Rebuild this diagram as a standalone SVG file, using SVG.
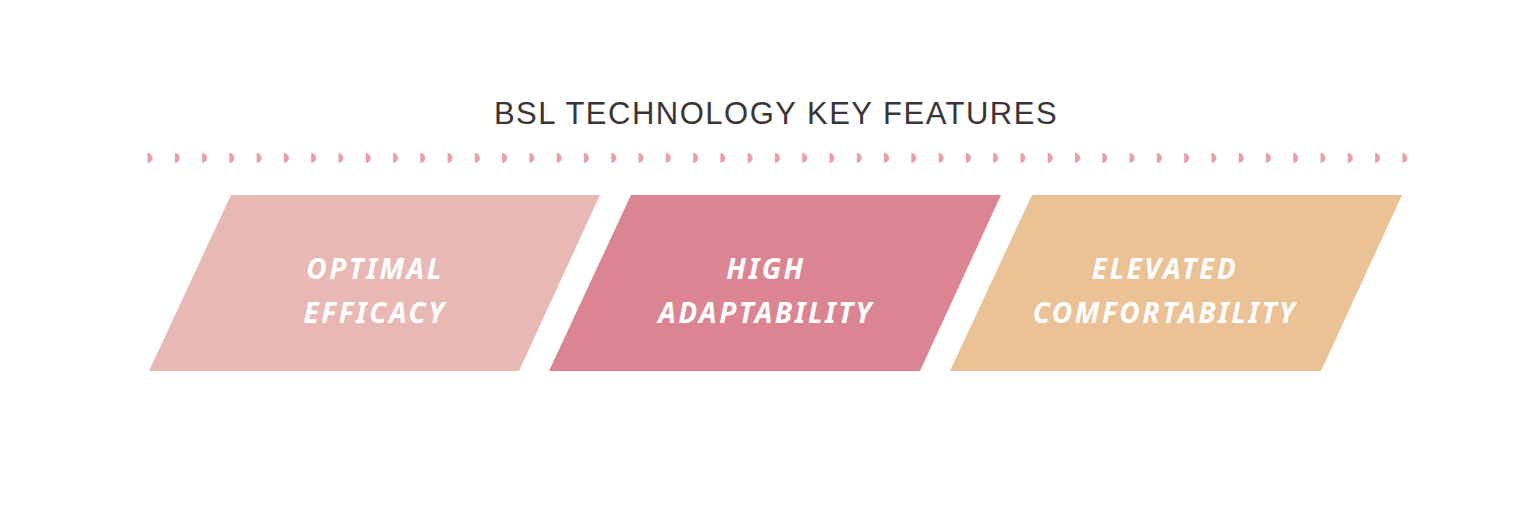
<svg xmlns="http://www.w3.org/2000/svg" width="1540" height="514" viewBox="0 0 1540 514">
<style>
.t{font-family:"Liberation Sans",Arial,sans-serif;font-size:31px;fill:#3a3536;letter-spacing:1.5px}
.l{font-family:"Noto Sans","Liberation Sans",sans-serif;font-size:28px;font-weight:bold;font-style:italic;fill:#fff;letter-spacing:2.5px;text-anchor:middle}
</style>
<defs><pattern id="d" x="147.5" y="0" width="27.28" height="514" patternUnits="userSpaceOnUse"><circle cx="0" cy="158" r="5" fill="#e8a0a6"/></pattern></defs>
<rect width="1540" height="514" fill="#fff"/>
<text class="t" x="776" y="124" text-anchor="middle">BSL TECHNOLOGY KEY FEATURES</text>
<g id="dots"><rect x="141" y="150" width="1268" height="16" fill="url(#d)"/></g>
<g id="connectors"/>
<g id="n1"><polygon points="231,195 600,195 519,371 149,371" fill="#e7b8b4"/><text class="l" x="375" y="279">OPTIMAL</text><text class="l" x="375" y="323">EFFICACY</text></g>
<g id="n2"><polygon points="631,195 1001,195 920,371 549,371" fill="#db8593"/><text class="l" x="766" y="279">HIGH</text><text class="l" x="766" y="323">ADAPTABILITY</text></g>
<g id="n3"><polygon points="1032,195 1402,195 1321,371 950,371" fill="#ebc196"/><text class="l" x="1165" y="279">ELEVATED</text><text class="l" x="1165" y="323">COMFORTABILITY</text></g>
</svg>
